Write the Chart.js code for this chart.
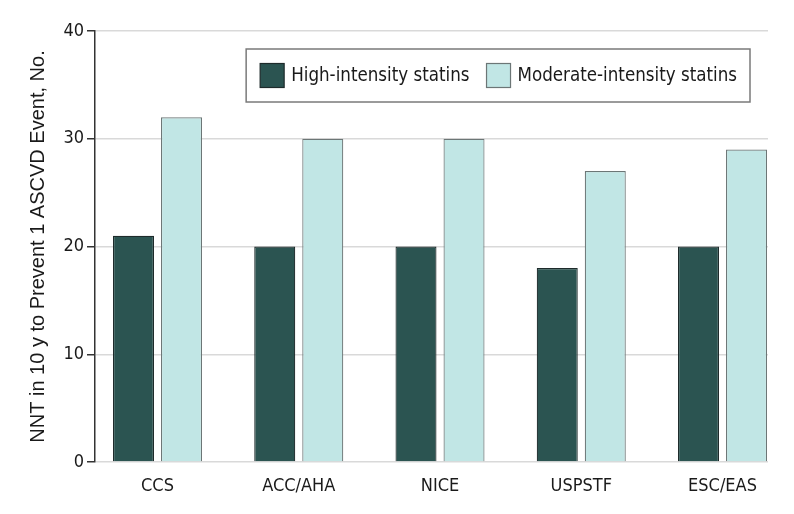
<!DOCTYPE html>
<html>
<head>
<meta charset="utf-8">
<script src="https://cdn.jsdelivr.net/npm/chart.js@4.4.1/dist/chart.umd.min.js"></script>
<style>
  html, body { margin: 0; padding: 0; background: #ffffff; }
  #wrap { width: 794px; height: 514px; }
</style>
</head>
<body>
<div id="wrap"><canvas id="c" width="794" height="514"></canvas></div>
<script>
const categories = ["CCS", "ACC/AHA", "NICE", "USPSTF", "ESC/EAS"];
const highIntensity = [21, 20, 20, 18, 20];
const moderateIntensity = [32, 30, 30, 27, 29];
const yTicks = [0, 10, 20, 30, 40];
const seriesNames = ["High-intensity statins", "Moderate-intensity statins"];
const yTitle = "NNT in 10 y to Prevent 1 ASCVD Event, No.";

const labelFont = '"DejaVu Sans Condensed", "Liberation Sans Narrow", Roboto, sans-serif';
const titleFont = '"Liberation Sans", Arial, sans-serif';

const legendBox = {
  id: 'legendBox',
  afterDraw(chart) {
    const ctx = chart.ctx;
    const ds = chart.data.datasets;
    ctx.save();
    ctx.font = '18.6px ' + labelFont;
    const sw = 24, gapText = 7, gapItem = 17, padL = 14, padR = 13;
    const w1 = ctx.measureText(ds[0].label).width;
    const w2 = ctx.measureText(ds[1].label).width;
    const total = padL + sw + gapText + w1 + gapItem + sw + gapText + w2 + padR;
    const right = 750, top = 49, h = 53;
    const left = right - total;
    ctx.strokeStyle = '#7a7a7a';
    ctx.lineWidth = 1.5;
    ctx.strokeRect(left, top, total, h);
    let x = left + padL;
    const cy = top + h / 2;
    ds.forEach((d, i) => {
      ctx.fillStyle = d.backgroundColor;
      ctx.fillRect(x, cy - sw / 2, sw, sw);
      ctx.strokeStyle = d.borderColor;
      ctx.lineWidth = 1.2;
      ctx.strokeRect(x, cy - sw / 2, sw, sw);
      x += sw + gapText;
      ctx.fillStyle = '#1a1a1a';
      ctx.textBaseline = 'middle';
      ctx.textAlign = 'left';
      ctx.fillText(d.label, x, cy + 1);
      x += (i === 0 ? w1 : w2) + gapItem;
    });
    ctx.restore();
  }
};

new Chart(document.getElementById('c'), {
  type: 'bar',
  data: {
    datasets: [
      {
        label: seriesNames[0],
        data: highIntensity.map((v, i) => ({ x: i, y: v })),
        backgroundColor: '#2b5451',
        borderColor: '#1e2b2b',
        borderWidth: 1.2,
        categoryPercentage: 0.68,
        barPercentage: 0.854
      },
      {
        label: seriesNames[1],
        data: moderateIntensity.map((v, i) => ({ x: i, y: v })),
        backgroundColor: '#c1e6e5',
        borderColor: '#6c7676',
        borderWidth: 1.2,
        categoryPercentage: 0.68,
        barPercentage: 0.854
      }
    ]
  },
  options: {
    responsive: false,
    animation: false,
    devicePixelRatio: 1,
    layout: { padding: { top: 31, right: 26, bottom: 0, left: 0 } },
    plugins: {
      legend: { display: false },
      tooltip: { enabled: false }
    },
    scales: {
      x: {
        type: 'linear',
        offset: false,
        min: -0.4425,
        max: 4.322,
        afterBuildTicks(scale) {
          scale.ticks = categories.map((c, i) => ({ value: i }));
        },
        afterFit(scale) { scale.height = 52; },
        grid: { display: false, drawTicks: false },
        border: { display: false },
        ticks: {
          autoSkip: false,
          maxRotation: 0,
          padding: 14,
          color: '#1a1a1a',
          font: { family: labelFont, size: 18 },
          callback: (v) => categories[v]
        }
      },
      y: {
        min: 0,
        max: 40,
        afterBuildTicks(scale) {
          scale.ticks = yTicks.map(v => ({ value: v }));
        },
        afterFit(scale) { scale.width = 95; },
        grid: {
          color: '#d9d9d9',
          lineWidth: 1.5,
          tickColor: '#333333',
          tickLength: 8,
          drawTicks: true
        },
        border: { display: true, color: '#333333', width: 1.5 },
        ticks: {
          padding: 3,
          color: '#1a1a1a',
          font: { family: labelFont, size: 18 }
        },
        title: {
          display: true,
          text: yTitle,
          color: '#1a1a1a',
          font: { family: titleFont, size: 20 },
          padding: { top: 26, bottom: 0 }
        }
      }
    }
  },
  plugins: [legendBox]
});
</script>
</body>
</html>
